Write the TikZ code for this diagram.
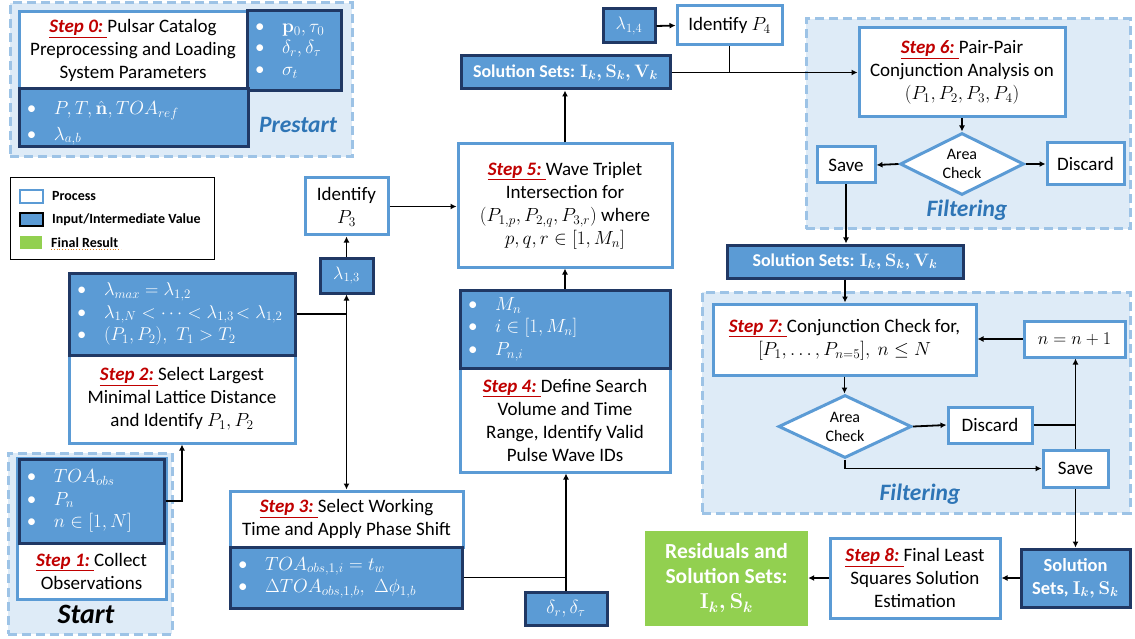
\RequirePackage{fix-cm}
\documentclass[tikz,border=0pt]{standalone}
\usepackage[no-math]{fontspec}
\setmainfont{Carlito}
\usetikzlibrary{shapes.geometric,arrows.meta}

\definecolor{procblue}{HTML}{5B9BD5}
\definecolor{datablue}{HTML}{5B9BD5}
\definecolor{navy}{HTML}{203864}
\definecolor{grpfill}{HTML}{DEEBF7}
\definecolor{grpline}{HTML}{9DC3E6}
\definecolor{stepred}{HTML}{C00000}
\definecolor{titleblue}{HTML}{2E75B6}
\definecolor{resgreen}{HTML}{92D050}

% red, underlined step tag
\newcommand\steptag[1]{\textcolor{stepred}{\underline{\textbf{\textit{#1}}\ }}}
% bullet item in value boxes
\newcommand\itm{\makebox[27pt][l]{\textbullet}}

\tikzset{
  txt/.style={font=\fontsize{19}{23}\selectfont},
  proc/.style={txt, draw=procblue, line width=3pt, fill=white, align=center, inner sep=0pt},
  data/.style={font=\fontsize{19}{22.5}\selectfont, draw=navy, line width=3pt, fill=datablue,
    text=white, align=left, inner xsep=8pt, inner ysep=0pt},
  solbox/.style={draw=navy, line width=3pt, fill=datablue, text=white, align=center,
    font=\fontsize{18}{23}\selectfont\bfseries\boldmath, inner sep=0pt},
  grp/.style={draw=grpline, fill=grpfill, line width=3pt, dash pattern=on 9pt off 5pt},
  check/.style={diamond, aspect=2, draw=procblue, line width=3pt, fill=white, align=center,
    inner sep=0pt, font=\fontsize{16}{19}\selectfont},
  grptitle/.style={text=titleblue, font=\fontsize{23.5}{26}\selectfont\bfseries\itshape},
  legtxt/.style={anchor=west, font=\fontsize{14}{16}\selectfont\bfseries, inner sep=0pt},
  arr/.style={line width=1.8pt, -{Latex[length=6pt,width=6pt]}},
  ln/.style={line width=1.8pt},
  sz/.style 2 args={minimum width=#1pt, minimum height=#2pt},
}

\begin{document}
\begin{tikzpicture}[x=1pt, y=-1pt]
\useasboundingbox (0,0) rectangle (1135,639);

% ---------- group backgrounds ----------
\node[grp, sz={342}{154}] (pregrp) at (181,80) {};
\node[grp, sz={164}{181}] (startgrp) at (90,543.5) {};
\node[grp, sz={324}{210}] (filtA) at (968,124) {};
\node[grp, sz={428}{221}] (filtB) at (916,402.5) {};

% ---------- prestart ----------
\node[proc, sz={228}{77}] (s0) at (133,50.5)
  {\steptag{Step 0:}Pulsar Catalog\\Preprocessing and Loading\\System Parameters};
\node[data, sz={94}{80}, text width=78pt, font=\fontsize{19}{21.5}\selectfont] (p0) at (294,51)
  {\itm$\mathbf{p}_0, \tau_0$\\ \itm$\delta_r, \delta_\tau$\\ \itm$\sigma_t$};
\node[data, sz={229}{58}, text width=213pt] (p1) at (133.5,118)
  {\rule{0pt}{24pt}\itm$P, T, \hat{\mathbf{n}}, TOA_{ref}$\\[3pt] \itm$\lambda_{a,b}$};
\node[grptitle] (pretitle) at (298,125) {Prestart};

% ---------- legend ----------
\node[draw=black, line width=1pt, sz={204}{81}] (legend) at (112,218.5) {};
\node[draw=procblue, line width=2pt, fill=white, sz={23}{13}] (lgp) at (31.5,196.5) {};
\node[draw=black, line width=2pt, fill=datablue, sz={23}{13}] (lgd) at (31.5,219.5) {};
\node[fill=resgreen, sz={22}{13}] (lgr) at (31,242.5) {};
\node[legtxt] (lgpt) at (52,196.5) {Process};
\node[legtxt] (lgdt) at (52,219.5) {Input/Intermediate Value};
\node[legtxt] (lgrt) at (51,242.5) {Final Result};
\draw[draw=orange!60!brown, line width=0.8pt, dotted] (lgrt.south west) ++(0,2) -- ++(70,0);

% ---------- step 1 ----------
\node[proc, sz={149}{141}] (s1) at (91.5,528.5) {};
\node[txt, align=center] (s1t) at (91.5,571) {\steptag{Step 1:}Collect\\Observations};
\node[data, sz={145}{84}, text width=129pt] (d1) at (91.5,501)
  {\itm$TOA_{obs}$\\ \itm$P_n$\\ \itm$n \in [1, N]$};
\node[font=\fontsize{28}{30}\selectfont\bfseries\itshape] (starttitle) at (86,614) {Start};

% ---------- step 2 ----------
\node[proc, sz={226}{88}] (s2) at (182,399)
  {\steptag{Step 2:}Select Largest\\Minimal Lattice Distance\\and Identify $P_1, P_2$};
\node[data, sz={226}{82}, text width=210pt, font=\fontsize{18.5}{22.5}\selectfont] (d2) at (182,314)
  {\itm$\lambda_{max} = \lambda_{1,2}$\\ \itm$\lambda_{1,N} < \cdots < \lambda_{1,3}\!< \lambda_{1,2}$\\ \itm$(P_1, P_2),\ T_1 > T_2$};

% ---------- P3 ----------
\node[proc, sz={83}{57}] (id3) at (346.5,206.5) {Identify\\$P_3$};
\node[solbox, sz={53}{35}, font=\fontsize{18}{20}\selectfont] (l13) at (346.5,275.5) {$\lambda_{1,3}$};

% ---------- step 3 ----------
\node[proc, sz={233}{56}] (s3) at (346.5,519)
  {\steptag{Step 3:}Select Working\\Time and Apply Phase Shift};
\node[data, sz={232}{61}, text width=216pt] (d3) at (346,577.5)
  {\itm$TOA_{obs,1,i} = t_w$\\ \itm$\Delta TOA_{obs,1,b},\ \Delta\phi_{1,b}$};
\node[solbox, sz={82}{33}, font=\fontsize{19}{20}\selectfont] (dl) at (566,608.5) {$\delta_r, \delta_\tau$};

% ---------- step 4 / step 5 ----------
\node[proc, sz={210}{104}] (s4) at (565,420)
  {\steptag{Step 4:}Define Search\\Volume and Time\\Range, Identify Valid\\Pulse Wave IDs};
\node[data, sz={210}{78}, text width=194pt] (d4) at (565,329)
  {\itm$M_n$\\ \itm$i \in [1, M_n]$\\ \itm$P_{n,i}$};
\node[proc, sz={214}{123}] (s5) at (565,205.5)
  {\steptag{Step 5:}Wave Triplet\\Intersection for\\$(P_{1,p}, P_{2,q}, P_{3,r})$ where\\$p, q, r \in [1, M_n]$};

% ---------- top row ----------
\node[solbox, sz={209}{33}] (sol1) at (565.5,72.5) {Solution Sets: $\mathbf{I}_k, \mathbf{S}_k, \mathbf{V}_k$};
\node[solbox, sz={52}{34}, font=\fontsize{18}{20}\selectfont] (l14) at (629,26) {$\lambda_{1,4}$};
\node[proc, sz={105}{39}] (id4) at (729.5,25.5) {Identify $P_4$};

% ---------- step 6 filtering ----------
\node[proc, sz={206}{89}] (s6) at (962,72.5)
  {\steptag{Step 6:}Pair-Pair\\Conjunction Analysis on\\$(P_1, P_2, P_3, P_4)$};
\node[check, sz={124}{62}] (chkA) at (962,164) {Area\\Check};
\node[proc, sz={58}{36}] (saveA) at (846,165) {Save};
\node[proc, sz={77}{42}] (discA) at (1085.5,164) {Discard};
\node[grptitle] (filtAt) at (967,210) {Filtering};

% ---------- step 7 filtering ----------
\node[solbox, sz={236}{33}] (sol2) at (845,261.5) {Solution Sets: $\mathbf{I}_k, \mathbf{S}_k, \mathbf{V}_k$};
\node[proc, sz={263}{71}] (s7) at (844.5,339.5)
  {\steptag{Step 7:}Conjunction Check for,\\$[P_1, \ldots, P_{n=5}],\ n \le N$};
\node[proc, sz={101}{36}, font=\fontsize{18}{20}\selectfont] (inc) at (1074.5,339) {$n = n + 1$};
\node[check, sz={133}{63}] (chkB) at (845,426.5) {Area\\Check};
\node[proc, sz={84}{36}] (discB) at (990,425) {Discard};
\node[proc, sz={65}{37}] (saveB) at (1075.5,468.5) {Save};
\node[grptitle] (filtBt) at (920,494) {Filtering};

% ---------- final ----------
\node[solbox, sz={109}{58}, font=\fontsize{18.5}{23}\selectfont\bfseries\boldmath] (sol3) at (1075.5,578)
  {Solution\\Sets, $\mathbf{I}_k, \mathbf{S}_k$};
\node[proc, sz={170}{80}] (s8) at (915,578)
  {\steptag{Step 8:}Final Least\\Squares Solution\\Estimation};
\node[fill=resgreen, sz={163}{95}, text=white, align=center, inner sep=0pt,
  font=\fontsize{21.5}{25}\selectfont\bfseries\boldmath] (res) at (726.5,578.5)
  {Residuals and\\Solution Sets:\\$\mathbf{I}_k, \mathbf{S}_k$};

% ---------- connectors ----------
\draw[arr] (d1.east) -| (s2.south);
\draw[ln] (d2.east) -- (d2.east -| l13.south);
\draw[line width=1.8pt, {Latex[length=6pt,width=6pt]}-{Latex[length=6pt,width=6pt]}] (l13.south) -- (s3.north);
\draw[arr] (l13.north) -- (id3.south);
\draw[arr] (id3.east) -- (id3.east -| s5.west);
\draw[ln] (d3.east) -- (d3.east -| dl.north);
\draw[arr] (dl.north) -- (dl.north |- s4.south);
\draw[arr] (d4.north) -- (s5.south);
\draw[arr] (s5.north) -- (s5.north |- sol1.south);
\draw[arr] (sol1.east) -- (sol1.east -| s6.west);
\draw[ln] (id4.south) -- (id4.south |- sol1.east);
\draw[arr] (l14.east) -- (id4.west);
\draw[arr] (s6.south) -- (chkA.north);
\draw[arr] (chkA.west) -- (saveA.east);
\draw[arr] (chkA.east) -- (discA.west);
\draw[arr] (saveA.south) -- (saveA.south |- sol2.north);
\draw[arr] (sol2.south) -- (sol2.south |- s7.north);
\draw[arr] (s7.south) -- (s7.south |- chkB.north);
\draw[arr] (chkB.east) -- (discB.west);
\draw[arr] (chkB.south) |- (saveB.west);
\draw[ln] (discB.east) -- (discB.east -| saveB.north);
\draw[arr] (saveB.north) -- (saveB.north |- inc.south);
\draw[arr] (inc.west) -- (inc.west -| s7.east);
\draw[arr] (saveB.south) -- (saveB.south |- sol3.north);
\draw[arr] (sol3.west) -- (sol3.west -| s8.east);
\draw[arr] (s8.west) -- (s8.west -| res.east);
\end{tikzpicture}
\end{document}
